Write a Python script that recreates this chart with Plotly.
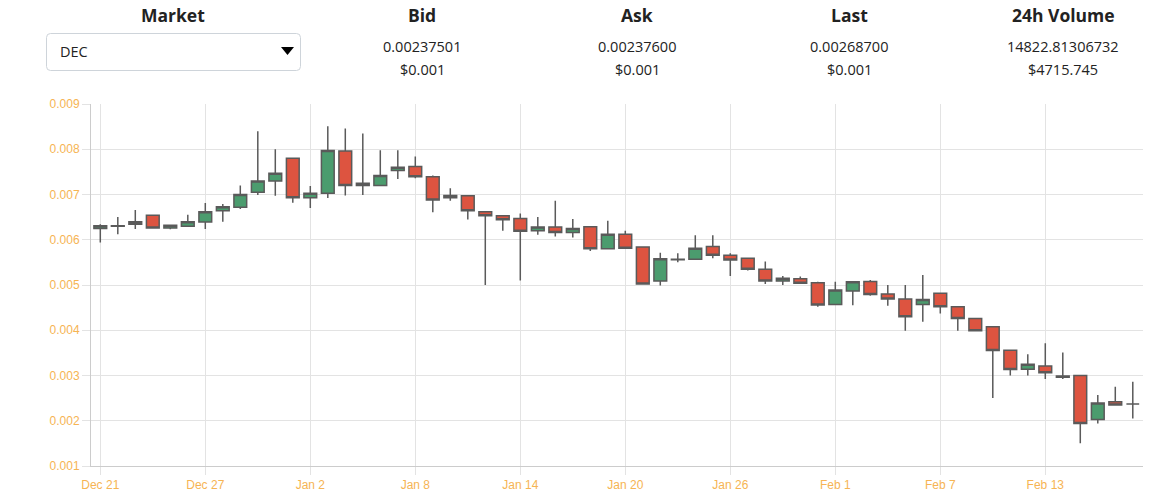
import pandas as pd
import plotly.graph_objects as go

# Daily OHLC for DEC
dates = pd.date_range("2017-12-21", periods=60, freq="D")

opens = [0.00625, 0.00630, 0.00640, 0.00654, 0.00626, 0.00630, 0.00639, 0.00664, 0.00672, 0.00705,
         0.00730, 0.00780, 0.00693, 0.00703, 0.00796, 0.00725, 0.00720, 0.00753, 0.00762, 0.00739,
         0.00693, 0.00697, 0.00662, 0.00653, 0.00647, 0.00620, 0.00628, 0.00616, 0.00629, 0.00580,
         0.00612, 0.00584, 0.00509, 0.00556, 0.00557, 0.00585, 0.00566, 0.00559, 0.00535, 0.00509,
         0.00514, 0.00505, 0.00457, 0.00487, 0.00508, 0.00480, 0.00469, 0.00457, 0.00482, 0.00452,
         0.00426, 0.00408, 0.00356, 0.00314, 0.00321, 0.00299, 0.00300, 0.00203, 0.00242, 0.00237]
highs = [0.00634, 0.00650, 0.00666, 0.00654, 0.00632, 0.00655, 0.00681, 0.00679, 0.00720, 0.00840,
         0.00800, 0.00780, 0.00719, 0.00851, 0.00846, 0.00835, 0.00798, 0.00798, 0.00784, 0.00742,
         0.00714, 0.00697, 0.00662, 0.00653, 0.00658, 0.00650, 0.00686, 0.00646, 0.00629, 0.00642,
         0.00620, 0.00584, 0.00571, 0.00570, 0.00610, 0.00610, 0.00570, 0.00559, 0.00552, 0.00520,
         0.00519, 0.00507, 0.00507, 0.00508, 0.00511, 0.00500, 0.00500, 0.00522, 0.00482, 0.00452,
         0.00426, 0.00408, 0.00356, 0.00347, 0.00371, 0.00351, 0.00300, 0.00257, 0.00275, 0.00286]
lows = [0.00594, 0.00612, 0.00624, 0.00625, 0.00623, 0.00629, 0.00624, 0.00640, 0.00668, 0.00699,
        0.00697, 0.00682, 0.00670, 0.00692, 0.00698, 0.00699, 0.00719, 0.00734, 0.00736, 0.00661,
        0.00686, 0.00645, 0.00500, 0.00620, 0.00510, 0.00611, 0.00607, 0.00605, 0.00575, 0.00579,
        0.00581, 0.00502, 0.00499, 0.00550, 0.00557, 0.00559, 0.00520, 0.00532, 0.00502, 0.00500,
        0.00503, 0.00452, 0.00455, 0.00455, 0.00476, 0.00454, 0.00399, 0.00419, 0.00437, 0.00399,
        0.00399, 0.00250, 0.00300, 0.00300, 0.00292, 0.00292, 0.00150, 0.00194, 0.00235, 0.00205]
closes = [0.00631, 0.00631, 0.00634, 0.00626, 0.00632, 0.00640, 0.00662, 0.00673, 0.00700, 0.00730,
          0.00747, 0.00693, 0.00703, 0.00797, 0.00720, 0.00720, 0.00742, 0.00760, 0.00739, 0.00688,
          0.00698, 0.00664, 0.00653, 0.00644, 0.00619, 0.00628, 0.00616, 0.00625, 0.00580, 0.00612,
          0.00581, 0.00502, 0.00558, 0.00557, 0.00581, 0.00566, 0.00555, 0.00535, 0.00509, 0.00515,
          0.00504, 0.00456, 0.00489, 0.00507, 0.00479, 0.00469, 0.00430, 0.00468, 0.00452, 0.00426,
          0.00399, 0.00355, 0.00313, 0.00325, 0.00306, 0.00296, 0.00194, 0.00239, 0.00235, 0.00237]

# Ticker header
headers = ["Market", "Bid", "Ask", "Last", "24h Volume"]
prices = ["", "0.00237501", "0.00237600", "0.00268700", "14822.81306732"]
usd = ["", "$0.001", "$0.001", "$0.001", "$4715.745"]
market = "DEC"

W, H = 1170, 499
L, R, T, B = 91, 27, 104, 33
PW, PH = W - L - R, H - T - B


def px(x):
    return (x - L) / PW


def py(y):
    return (H - B - y) / PH


fig = go.Figure(go.Candlestick(
    x=dates, open=opens, high=highs, low=lows, close=closes,
    increasing=dict(fillcolor="#4b9c6e", line=dict(color="#5a5a5a", width=1.5)),
    decreasing=dict(fillcolor="#dd5440", line=dict(color="#5a5a5a", width=1.5)),
    whiskerwidth=0, showlegend=False, hoverinfo="x+y",
))

head_x = [173, 422, 637, 849, 1063]
anns = []
for hx, h, p, u in zip(head_x, headers, prices, usd):
    anns.append(dict(x=px(hx), y=py(15), text=f"<b>{h}</b>", font=dict(size=17.5, color="#222")))
    if p:
        anns.append(dict(x=px(hx), y=py(46), text=p, font=dict(size=14.5, color="#222")))
        anns.append(dict(x=px(hx), y=py(70), text=u, font=dict(size=14.5, color="#222")))
anns.append(dict(x=px(58), y=py(52), text=market, xanchor="left", font=dict(size=14.5, color="#222")))
for a in anns:
    a.update(xref="paper", yref="paper", showarrow=False, yanchor="middle")
    a.setdefault("xanchor", "center")


# dropdown box with rounded corners
def rounded(x0, y0, x1, y1, r):
    X0, X1 = px(x0), px(x1)
    Y0, Y1 = py(y0), py(y1)
    rx, ry = r / PW, r / PH
    return (f"M {X0 + rx} {Y0} L {X1 - rx} {Y0} Q {X1} {Y0} {X1} {Y0 - ry} "
            f"L {X1} {Y1 + ry} Q {X1} {Y1} {X1 - rx} {Y1} L {X0 + rx} {Y1} "
            f"Q {X0} {Y1} {X0} {Y1 + ry} L {X0} {Y0 - ry} Q {X0} {Y0} {X0 + rx} {Y0} Z")


shapes = [
    dict(type="path", path=rounded(46.5, 33.5, 300.5, 70.5, 4), xref="paper", yref="paper",
         line=dict(color="#ced4da", width=1), fillcolor="white"),
    dict(type="path", xref="paper", yref="paper", fillcolor="black", line=dict(width=0),
         path=f"M {px(281)} {py(47)} L {px(294)} {py(47)} L {px(287.5)} {py(55)} Z"),
]

fig.update_layout(
    width=W, height=H,
    margin=dict(l=L, r=R, t=T, b=B, autoexpand=False),
    paper_bgcolor="white", plot_bgcolor="white",
    font=dict(family="Open Sans, sans-serif"),
    annotations=anns, shapes=shapes,
    boxgap=0.27, boxgroupgap=0,
    xaxis=dict(
        type="date", range=["2017-12-20 11:15", "2018-02-18 14:00"],
        tick0="2017-12-21", dtick=6 * 86400000, tickformat="%b %-d",
        showgrid=True, gridcolor="#e3e3e3", gridwidth=1,
        ticks="outside", ticklen=8, tickcolor="#e3e3e3",
        showline=True, linecolor="#cccccc", linewidth=1,
        tickfont=dict(family="Liberation Sans, Arial", size=12, color="#f6b453"),
        rangeslider=dict(visible=False), fixedrange=True, automargin=False,
    ),
    yaxis=dict(
        range=[0.001, 0.009], dtick=0.001, tickformat=".3f",
        showgrid=True, gridcolor="#e3e3e3", gridwidth=1,
        ticks="outside", ticklen=8, tickcolor="#e3e3e3",
        showline=True, linecolor="#cccccc", linewidth=1,
        tickfont=dict(family="Liberation Sans, Arial", size=12, color="#f6b453"),
        zeroline=False, fixedrange=True, automargin=False,
    ),
)

# drop the browser's default page margin so the figure sits at the window origin
fig.write_html("out.html", config={"displayModeBar": False},
               post_script="document.body.style.margin='0';")
